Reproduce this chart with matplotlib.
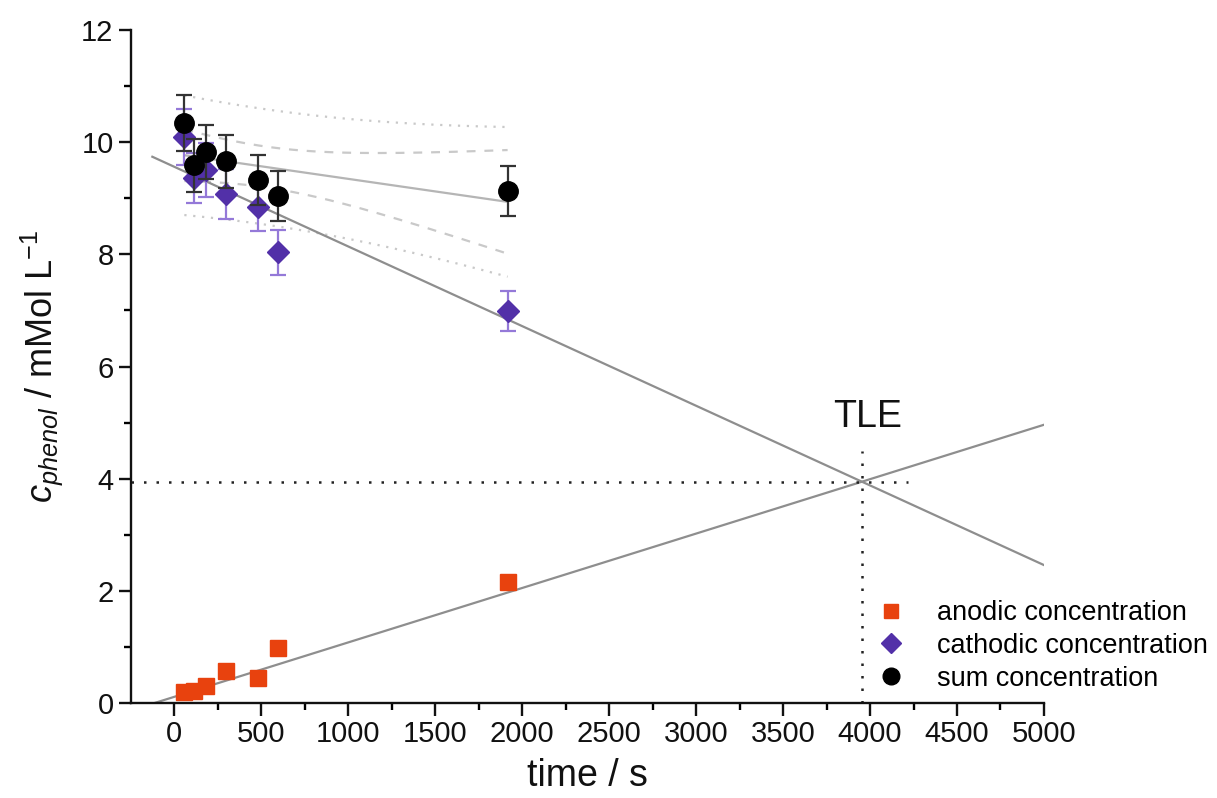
import matplotlib
matplotlib.use("Agg")
import matplotlib.pyplot as plt
import numpy as np
from matplotlib.lines import Line2D

plt.rcParams['font.family'] = ['Liberation Sans', 'DejaVu Sans']
plt.rcParams['mathtext.fontset'] = 'custom'
plt.rcParams['mathtext.rm'] = 'Liberation Sans'
plt.rcParams['mathtext.it'] = 'Liberation Sans:italic'

# measurement times (s)
time_s = [57, 115, 184, 299, 478, 598, 1916]

anodic = [0.20, 0.22, 0.30, 0.57, 0.45, 0.98, 2.15]
cathodic = [10.09, 9.36, 9.50, 9.08, 8.85, 8.04, 6.99]
cathodic_err = [0.50, 0.45, 0.48, 0.45, 0.43, 0.40, 0.35]
total = [10.34, 9.59, 9.83, 9.66, 9.33, 9.04, 9.13]
total_err = [0.50, 0.47, 0.48, 0.47, 0.45, 0.45, 0.45]

# linear fits (intercept, slope) and their x ranges
anodic_fit = (0.1115, 0.00097)
anodic_fit_x = [-115, 5000]
cathodic_fit = (9.56, -0.00142)
cathodic_fit_x = [-127, 5000]

T_95 = 2.571  # student t, n-2 = 5

legend_labels = ["anodic concentration", "cathodic concentration", "sum concentration"]

c_anodic = "#e8420e"
c_cathodic = "#5230a8"
c_cathodic_err = "#9479d8"


def main():
    fig = plt.figure(figsize=(12.17, 7.98), dpi=100)
    ax = fig.add_axes([0.1076, 0.1190, 0.7502, 0.8434])

    t = np.array(time_s, dtype=float)
    s_tot = np.array(total)

    # sum fit with 95% confidence / prediction bands
    slope, icpt = np.polyfit(t, s_tot, 1)
    resid = s_tot - (icpt + slope * t)
    s = np.sqrt(np.sum(resid ** 2) / (len(t) - 2))
    xx = np.linspace(t.min(), t.max(), 200)
    yy = icpt + slope * xx
    sxx = np.sum((t - t.mean()) ** 2)
    lev = 1.0 / len(t) + (xx - t.mean()) ** 2 / sxx
    conf = T_95 * s * np.sqrt(lev)
    pred = T_95 * s * np.sqrt(1 + lev)

    band_c = "#c9c9c9"
    ax.plot(xx, yy + conf, color=band_c, lw=1.6, ls=(0, (4, 4)))
    ax.plot(xx, yy - conf, color=band_c, lw=1.6, ls=(0, (4, 4)))
    ax.plot(xx, yy + pred, color=band_c, lw=1.6, ls=(0, (1, 3)))
    ax.plot(xx, yy - pred, color=band_c, lw=1.6, ls=(0, (1, 3)))
    ax.plot(xx, yy, color="#b5b5b5", lw=1.6)

    # anodic / cathodic fit lines
    xa = np.array(anodic_fit_x, dtype=float)
    ax.plot(xa, anodic_fit[0] + anodic_fit[1] * xa, color="#8e8e8e", lw=1.6)
    xc = np.array(cathodic_fit_x, dtype=float)
    ax.plot(xc, cathodic_fit[0] + cathodic_fit[1] * xc, color="#8e8e8e", lw=1.6)

    # TLE crossing point
    x_tle = (cathodic_fit[0] - anodic_fit[0]) / (anodic_fit[1] - cathodic_fit[1])
    y_tle = anodic_fit[0] + anodic_fit[1] * x_tle
    ax.plot([-250, 4220], [y_tle, y_tle], color="#222222", lw=1.8, ls=(0, (1, 4)))
    ax.plot([x_tle, x_tle], [0, 4.5], color="#222222", lw=1.8, ls=(0, (1, 4)))
    ax.text(x_tle + 30, 5.1, "TLE", fontsize=27, ha="center", va="center", color="#111111")

    # data
    ax.plot(time_s, anodic, "s", color=c_anodic, ms=11, mec=c_anodic, zorder=5)
    ax.errorbar(time_s, cathodic, yerr=cathodic_err, fmt="D", color=c_cathodic, ms=11,
                ecolor=c_cathodic_err, elinewidth=1.6, capsize=6, capthick=1.6, zorder=5)
    ax.errorbar(time_s, total, yerr=total_err, fmt="o", color="black", ms=14,
                ecolor="#333333", elinewidth=1.6, capsize=6, capthick=1.6, zorder=6)

    ax.set_xlim(-250, 5000)
    ax.set_ylim(0, 12)
    ax.set_xticks(np.arange(0, 5001, 500))
    ax.set_xticks(np.arange(250, 5000, 500), minor=True)
    ax.set_yticks(np.arange(0, 13, 2))
    ax.set_yticks(np.arange(1, 12, 2), minor=True)
    ax.tick_params(which="major", direction="out", length=9, width=1.7, labelsize=21, colors="#111111")
    ax.tick_params(which="minor", direction="out", length=5, width=1.7)
    for side in ("top", "right"):
        ax.spines[side].set_visible(False)
    for side in ("left", "bottom"):
        ax.spines[side].set_linewidth(1.7)
        ax.spines[side].set_color("#111111")

    ax.set_xlabel("time / s", fontsize=27, labelpad=7, color="#111111")
    ax.set_ylabel(r"$c_{\mathit{phenol}}$ / mMol L$^{-1}$", fontsize=26, labelpad=12, color="#111111")

    handles = [
        Line2D([], [], ls="none", marker="s", color=c_anodic, ms=10),
        Line2D([], [], ls="none", marker="D", color=c_cathodic, ms=10),
        Line2D([], [], ls="none", marker="o", color="black", ms=12),
    ]
    fig.legend(handles, legend_labels, loc="upper left", bbox_to_anchor=(0.721, 0.248),
               frameon=False, fontsize=19.5, handlelength=1.0, handletextpad=1.2,
               labelspacing=0.25, borderpad=0, borderaxespad=0)

    fig.savefig("out.png", dpi=100)


if __name__ == "__main__":
    main()
